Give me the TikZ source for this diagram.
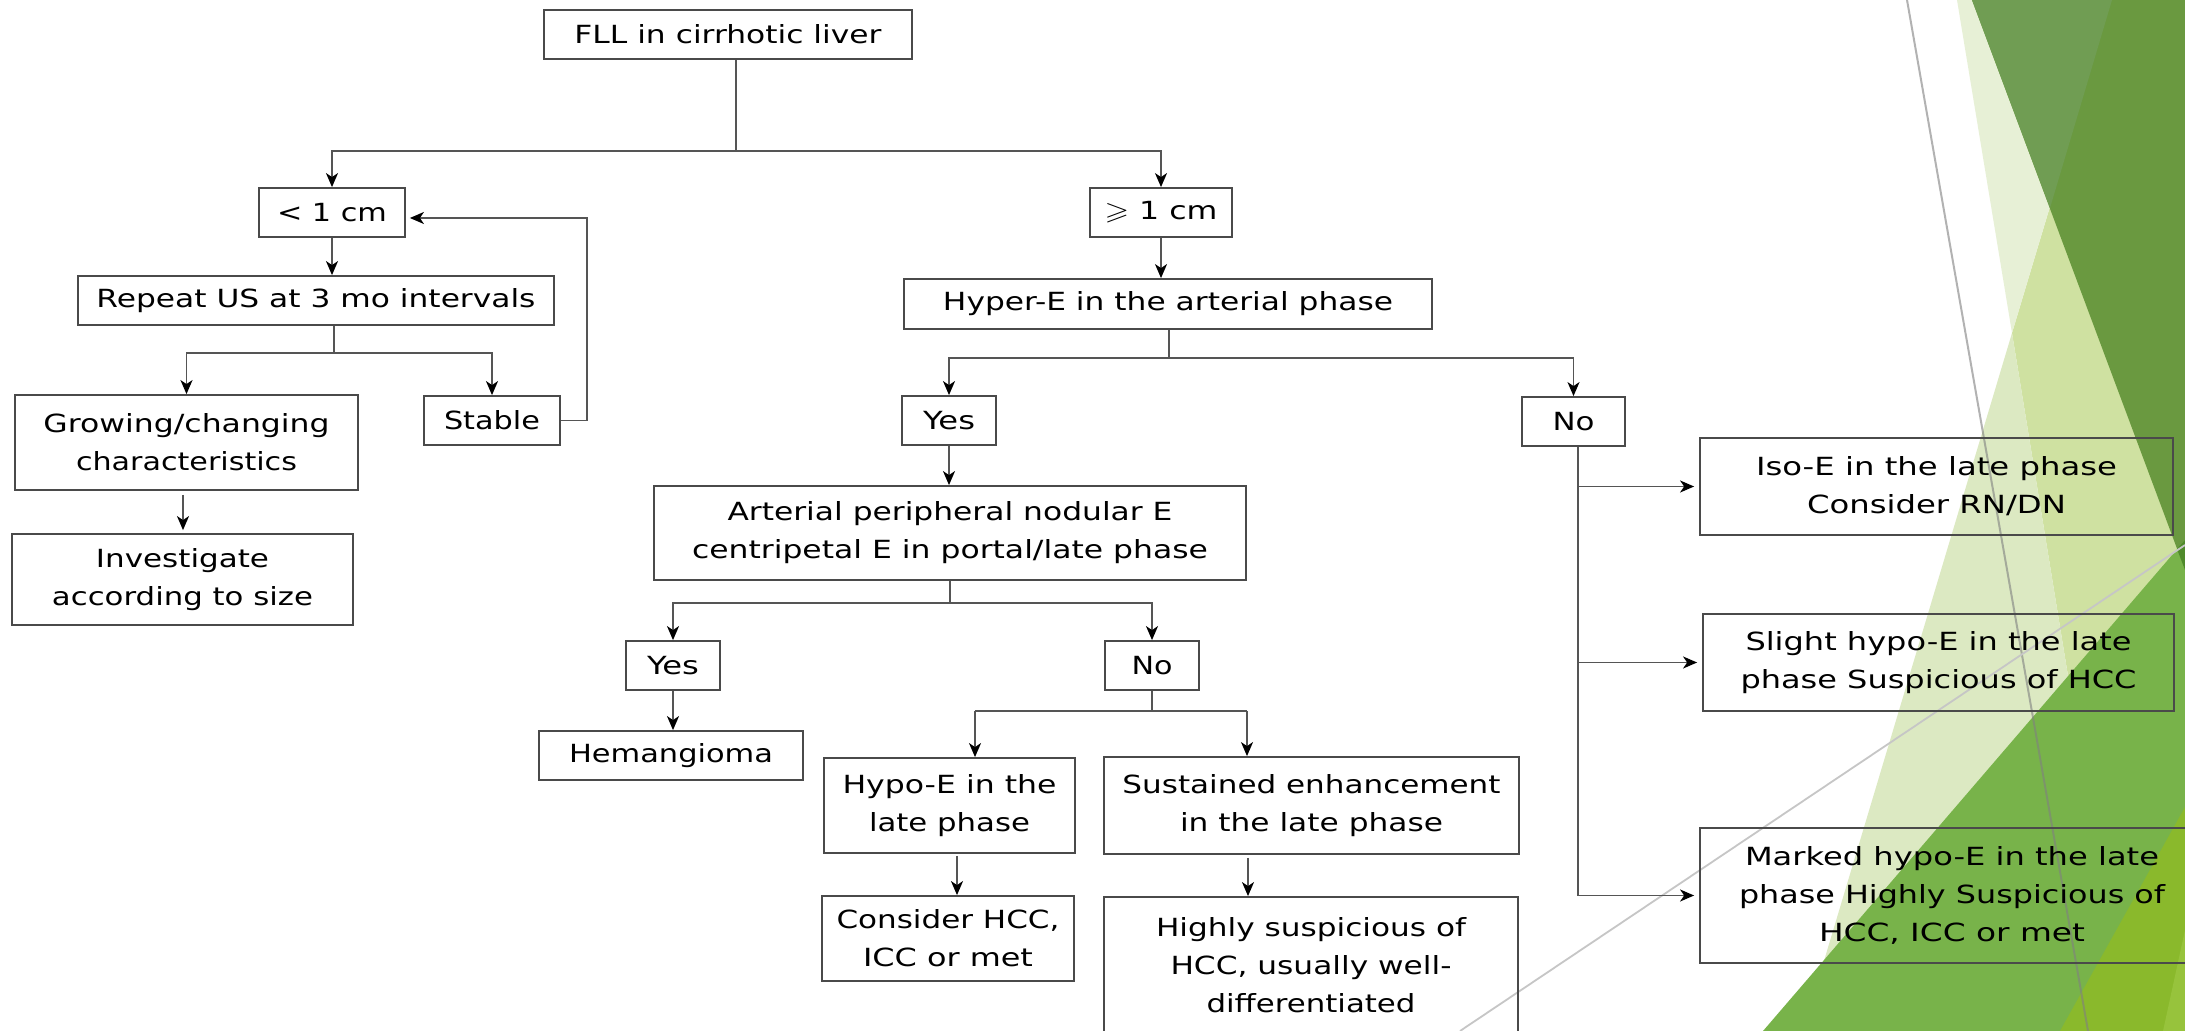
\documentclass[tikz,border=0pt]{standalone}
\usepackage{fontspec}
\setmainfont{DejaVu Sans}
\usepackage{amssymb}
\usepackage{graphicx}
\usetikzlibrary{arrows.meta,calc}
\newlength\pxu \setlength\pxu{0.5pt}
\newcommand\fitln[2]{\resizebox{#1\pxu}{\height}{#2}}
\definecolor{boxc}{HTML}{4A4A4A}
\definecolor{linec}{HTML}{555555}
\definecolor{vpale}{HTML}{E7F0D6}
\definecolor{lpale}{HTML}{DCE9C2}
\definecolor{medp}{HTML}{CFE1A1}
\definecolor{dkg}{HTML}{6A9940}
\definecolor{dkg2}{HTML}{709D53}
\definecolor{grn}{HTML}{78B34A}
\definecolor{grdk}{HTML}{4F8A2B}
\definecolor{lime}{HTML}{8AB92C}
\definecolor{lime2}{HTML}{97C33C}
\begin{document}
\begin{tikzpicture}[x=0.5pt,y=-0.5pt,
  box/.style={draw=boxc, line width=0.9pt, inner sep=0pt, align=center,
    font=\fontsize{12.5}{19}\selectfont, text=black},
  conn/.style={draw=linec, line width=0.8pt},
  arr/.style={conn, -{Stealth[length=7pt,width=6pt,inset=2pt,color=black,fill=black]}}
]
\useasboundingbox (0,0) rectangle (2185,1031);
\fill[white] (0,0) rectangle (2185,1031);
% decorative background
\fill[medp] (2112,0) -- (2012,333) -- (2126,1031) -- (2185,1031) -- (2185,0) -- cycle;
\fill[vpale] (1957,0) -- (2112,0) -- (2012,333) -- cycle;
\fill[lpale] (2012,333) -- (1803,1031) -- (2126,1031) -- cycle;
\fill[dkg] (1972,0) -- (2185,0) -- (2185,570) -- cycle;
\fill[dkg2] (1972,0) -- (2112,0) -- (2050,208) -- cycle;
\fill[grn] (1763,1031) -- (2185,540) -- (2185,1031) -- cycle;
\fill[grdk] (2177,549) -- (2185,540) -- (2185,570) -- cycle;
\fill[lime] (2060,1031) -- (2185,807) -- (2185,1031) -- cycle;
\fill[lime2] (2163,1031) -- (2185,930) -- (2185,1031) -- cycle;
\draw[gray, opacity=0.6, line width=1pt] (1907,0) -- (2088,1031);
\draw[gray!45, line width=0.9pt] (1460,1031) -- (2185,545);

% nodes
\node[box, minimum width=184pt, minimum height=24.5pt] (n1) at (728,34.5) {\fitln{307}{FLL in cirrhotic liver}};
\node[box, minimum width=73pt, minimum height=24.5pt] (n2) at (332,212.5) {\fitln{110}{< 1 cm}};
\node[box, minimum width=238pt, minimum height=24.5pt] (n3) at (316,300.5) {\fitln{439}{Repeat US at 3 mo intervals}};
\node[box, minimum width=171.5pt, minimum height=47.5pt] (n4) at (186.5,442.5) {\fitln{286}{Growing/changing}\\\fitln{221}{characteristics}};
\node[box, minimum width=68pt, minimum height=24.5pt] (n5) at (492,420.5) {\fitln{96}{Stable}};
\node[box, minimum width=170.5pt, minimum height=45.5pt] (n6) at (182.5,579.5) {\fitln{173}{Investigate}\\\fitln{261}{according to size}};
\node[box, minimum width=71pt, minimum height=24.5pt] (n7) at (1161,212.5) {\fitln{113}{$\geqslant$ 1 cm}};
\node[box, minimum width=264pt, minimum height=25pt] (n8) at (1168,304) {\fitln{450}{Hyper-E in the arterial phase}};
\node[box, minimum width=47pt, minimum height=24.5pt] (n9) at (949,420.5) {\fitln{52}{Yes}};
\node[box, minimum width=51.5pt, minimum height=24.5pt] (n10) at (1573.5,421.5) {\fitln{42}{No}};
\node[box, minimum width=296pt, minimum height=47pt] (n11) at (950,533) {\fitln{445}{Arterial peripheral nodular E}\\\fitln{516}{centripetal E in portal/late phase}};
\node[box, minimum width=47pt, minimum height=24.5pt] (n12) at (673,665.5) {\fitln{52}{Yes}};
\node[box, minimum width=47pt, minimum height=24.5pt] (n13) at (1152,665.5) {\fitln{41}{No}};
\node[box, minimum width=132pt, minimum height=24.5pt] (n14) at (671,755.5) {\fitln{204}{Hemangioma}};
\node[box, minimum width=125.5pt, minimum height=47.5pt] (n15) at (949.5,805.5) {\fitln{214}{Hypo-E in the}\\\fitln{161}{late phase}};
\node[box, minimum width=207.5pt, minimum height=48.5pt] (n16) at (1311.5,805.5) {\fitln{378}{Sustained enhancement}\\\fitln{263}{in the late phase}};
\node[box, minimum width=126pt, minimum height=42.5pt] (n17) at (948,938.5) {\fitln{223}{Consider HCC,}\\\fitln{170}{ICC or met}};
\node[box, minimum width=207pt, minimum height=68.5pt] (n18) at (1311,965.5) {\fitln{310}{Highly suspicious of}\\\fitln{281}{HCC, usually well-}\\\fitln{209}{differentiated}};
\node[box, minimum width=236.5pt, minimum height=48.5pt] (n19) at (1936.5,486.5) {\fitln{361}{Iso-E in the late phase}\\\fitln{259}{Consider RN/DN}};
\node[box, minimum width=235.5pt, minimum height=48.5pt] (n20) at (1938.5,662.5) {\fitln{386}{Slight hypo-E in the late}\\\fitln{396}{phase Suspicious of HCC}};
\node[box, minimum width=252pt, minimum height=67.5pt] (n21) at (1952,895.5) {\fitln{414}{Marked hypo-E in the late}\\\fitln{426}{phase Highly Suspicious of}\\\fitln{266}{HCC, ICC or met}};

% connectors
\coordinate (j1) at (736,151);
\draw[conn] (j1 |- n1.south) -- (j1);
\draw[arr] (j1) -| (n2.north);
\draw[arr] (j1) -| (n7.north);
\draw[arr] (n2.south) -- (n2.south |- n3.north);
\coordinate (j2) at (334,353);
\draw[conn] (j2 |- n3.south) -- (j2);
\draw[arr] (j2) -| (n4.north);
\draw[arr] (j2) -| (n5.north);
\draw[arr, shorten >=2pt] (n5.east) -- ++(26,0) |- ($(n2.east)+(0,5.5)$);
\coordinate (a4) at ($(n4.south)+(-3.5,4)$);
\draw[arr] (a4) -- ($(a4 |- n6.north)+(0,-3)$);

\draw[arr] (n7.south) -- (n7.south |- n8.north);
\coordinate (j3) at (1169,358);
\draw[conn] (j3 |- n8.south) -- (j3);
\draw[arr] (j3) -| (n9.north);
\draw[arr] (j3) -| (n10.north);
\draw[arr] (n9.south) -- (n9.south |- n11.north);
\coordinate (j4) at (950,603);
\draw[conn] (j4 |- n11.south) -- (j4);
\draw[arr] (j4) -| (n12.north);
\draw[arr] (j4) -| (n13.north);
\draw[arr] (n12.south) -- (n12.south |- n14.north);
\coordinate (j5a) at (975,711);
\coordinate (j5b) at (1247,711);
\draw[conn] (n13.south) -- (n13.south |- j5a);
\draw[conn] (j5a) -- (j5b);
\draw[arr] (j5a) -- (j5a |- n15.north);
\draw[arr] (j5b) -- (j5b |- n16.north);
\coordinate (a1) at ($(n15.south)+(7.5,2)$);
\draw[arr] (a1) -- (a1 |- n17.north);
\coordinate (a2) at ($(n16.south)+(-63.5,3)$);
\draw[arr] (a2) -- (a2 |- n18.north);

\coordinate (a3) at ($(n10.south)+(4.5,0)$);
\draw[conn] (a3) -- (a3 |- n21.west);
\draw[arr, shorten >=2.5pt] (a3 |- n19.west) -- (n19.west);
\draw[arr, shorten >=2.5pt] (a3 |- n20.west) -- (n20.west);
\draw[arr, shorten >=2.5pt] (a3 |- n21.west) -- (n21.west);
\end{tikzpicture}
\end{document}
